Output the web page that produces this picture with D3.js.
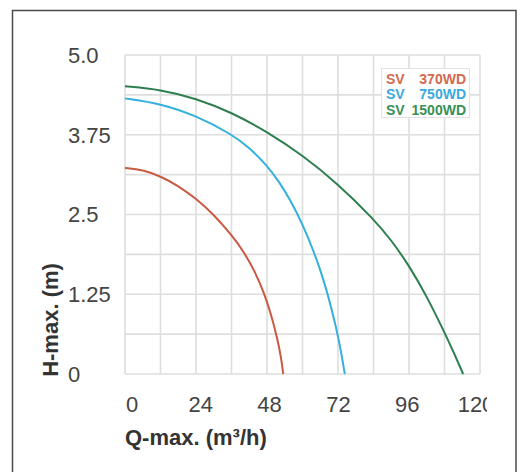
<!DOCTYPE html>
<html>
<head>
<meta charset="utf-8">
<script src="https://cdn.jsdelivr.net/npm/d3@7"></script>
<style>
  html, body { margin: 0; padding: 0; background: #fff; }
  svg { display: block; }
</style>
</head>
<body>
<svg id="chart" width="528" height="472"></svg>
<script>
// ---- data ----
const seriesNames = ["SV", "SV", "SV"];
const seriesModels = ["370WD", "750WD", "1500WD"];
const seriesColors = ["#c95a42", "#33b0dc", "#2d7f4e"];
const legendColors = ["#d4694f", "#3ba9de", "#3a8f55"];

const q370 = [0, 6, 12, 18, 24, 30, 36, 40, 44, 47, 49.5, 51.5, 52.7, 53.5];
const h370 = [3.23, 3.2, 3.1, 2.95, 2.75, 2.5, 2.18, 1.93, 1.6, 1.27, 0.92, 0.55, 0.28, 0];

const q750 = [0, 12, 24, 36, 42, 48, 52, 56, 60, 64, 67, 70, 72.5, 74.3];
const h750 = [4.32, 4.24, 4.05, 3.76, 3.55, 3.27, 3.02, 2.72, 2.35, 1.9, 1.5, 1.0, 0.5, 0];

const q1500 = [0, 12, 24, 36, 48, 60, 72, 84, 90, 96, 102, 108, 111, 114.3];
const h1500 = [4.51, 4.46, 4.32, 4.1, 3.8, 3.43, 2.98, 2.43, 2.1, 1.7, 1.22, 0.65, 0.35, 0];

const xTicks = [0, 24, 48, 72, 96, 120];
const xGrid = [0, 12, 24, 36, 48, 60, 72, 84, 96, 108, 120];
const yTicks = [0, 1.25, 2.5, 3.75, 5.0];
const yTickLabels = ["0", "1.25", "2.5", "3.75", "5.0"];
const yGrid = [0, 0.625, 1.25, 1.875, 2.5, 3.125, 3.75, 4.375, 5.0];
const xTitle = "Q-max. (m³/h)";
const yTitle = "H-max. (m)";

// ---- drawing ----
const svg = d3.select("#chart");
const font = "'Liberation Sans', Arial, Helvetica, sans-serif";

// outer frame (bottom edge runs off the picture)
svg.append("rect")
  .attr("x", 12.5).attr("y", 10.5)
  .attr("width", 503.5).attr("height", 480)
  .attr("fill", "none").attr("stroke", "#4a4a4a").attr("stroke-width", 1.5);

const x = d3.scaleLinear().domain([0, 120]).range([125, 480]);
const y = d3.scaleLinear().domain([0, 5]).range([374, 55]);
const xLabel = d3.scaleLinear().domain([0, 120]).range([132, 476]);

// grid
const grid = svg.append("g").attr("stroke", "#dedede").attr("stroke-width", 1.6);
grid.selectAll("line.v").data(xGrid).join("line")
  .attr("class", "v")
  .attr("x1", d => x(d)).attr("x2", d => x(d))
  .attr("y1", y(0)).attr("y2", y(5));
grid.selectAll("line.h").data(yGrid).join("line")
  .attr("class", "h")
  .attr("x1", x(0)).attr("x2", x(120))
  .attr("y1", d => y(d)).attr("y2", d => y(d));

// y tick labels (left aligned)
svg.append("g").selectAll("text").data(yTicks).join("text")
  .attr("x", 68).attr("y", d => y(d))
  .attr("dy", "0.36em")
  .attr("font-family", font).attr("font-size", 22)
  .attr("fill", "#444")
  .text((d, i) => yTickLabels[i]);

// x tick labels, clipped at the right like the reference
svg.append("clipPath").attr("id", "xclip")
  .append("rect").attr("x", 0).attr("y", 0).attr("width", 487).attr("height", 472);
svg.append("g").attr("clip-path", "url(#xclip)")
  .selectAll("text").data(xTicks).join("text")
  .attr("x", d => xLabel(d)).attr("y", 412)
  .attr("text-anchor", "middle")
  .attr("font-family", font).attr("font-size", 22)
  .attr("fill", "#444")
  .text(d => d);

// axis titles
svg.append("text")
  .attr("x", 125).attr("y", 445)
  .attr("font-family", font).attr("font-size", 22).attr("font-weight", "bold")
  .attr("fill", "#333")
  .text(xTitle);
svg.append("text")
  .attr("transform", "translate(58,320) rotate(-90)")
  .attr("text-anchor", "middle")
  .attr("font-family", font).attr("font-size", 22).attr("font-weight", "bold")
  .attr("fill", "#333")
  .text(yTitle);

// curves
const series = [
  q370.map((q, i) => [q, h370[i]]),
  q750.map((q, i) => [q, h750[i]]),
  q1500.map((q, i) => [q, h1500[i]])
];
const line = d3.line()
  .x(d => x(d[0])).y(d => y(d[1]))
  .curve(d3.curveBasis);
series.forEach((s, i) => {
  svg.append("path")
    .datum(s)
    .attr("d", line)
    .attr("fill", "none")
    .attr("stroke", seriesColors[i])
    .attr("stroke-width", 2);
});

// legend
const lg = svg.append("g");
lg.append("rect")
  .attr("x", 381.5).attr("y", 68.5).attr("width", 88).attr("height", 49)
  .attr("fill", "#fff").attr("stroke", "#e2e2e2").attr("stroke-width", 1);
seriesNames.forEach((n, i) => {
  const by = 83.5 + i * 15.5;
  lg.append("text")
    .attr("x", 386).attr("y", by)
    .attr("font-family", font).attr("font-size", 14).attr("font-weight", "bold")
    .attr("fill", legendColors[i]).text(n);
  lg.append("text")
    .attr("x", 466).attr("y", by).attr("text-anchor", "end")
    .attr("font-family", font).attr("font-size", 14).attr("font-weight", "bold")
    .attr("fill", legendColors[i]).text(seriesModels[i]);
});
</script>
</body>
</html>
